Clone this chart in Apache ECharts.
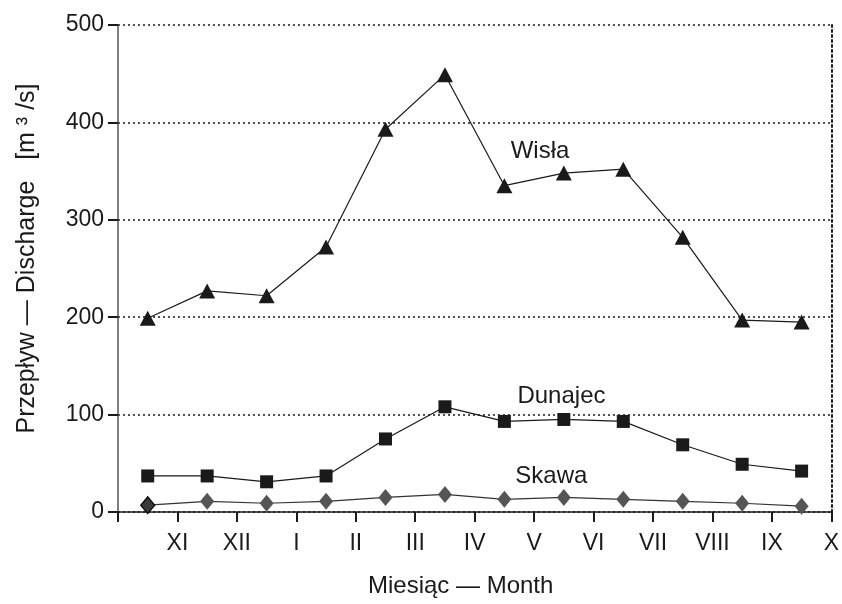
<!DOCTYPE html>
<html>
<head>
<meta charset="utf-8">
<script src="https://cdn.jsdelivr.net/npm/echarts@6/dist/echarts.min.js"></script>
<style>
  html, body { margin: 0; padding: 0; background: #fff; }
  #chart { width: 842px; height: 604px; }
</style>
</head>
<body>
<div id="chart"></div>
<script>
// months of the hydrological year, label sits at the end of each month
const months = ['XI', 'XII', 'I', 'II', 'III', 'IV', 'V', 'VI', 'VII', 'VIII', 'IX', 'X']
const yTicks = [0, 100, 200, 300, 400, 500]

// mean monthly discharge [m3/s]
const wisla = [199, 227, 222, 272, 393, 449, 335, 348, 352, 282, 197, 195]
const dunajec = [37, 37, 31, 37, 75, 108, 93, 95, 93, 69, 49, 42]
const skawa = [7, 11, 9, 11, 15, 18, 13, 15, 13, 11, 9, 6]

// where the river names are written, in data units [month, discharge]
const wislaLabelAt = [7.1, 370]
const dunajecLabelAt = [7.46, 119]
const skawaLabelAt = [7.29, 37]

const font = 'Liberation Sans, Arial, Helvetica, sans-serif'
const ink = '#1a1a1a'

// each month's value is plotted in the middle of the month
const toPoints = arr => arr.map((v, i) => [i + 0.5, v])

const nameMark = (name, at) => ({
  symbol: 'rect',
  symbolSize: 1,
  itemStyle: { color: 'rgba(0,0,0,0)' },
  label: { show: true, formatter: name, color: ink, fontFamily: font, fontSize: 24, position: 'inside' },
  data: [{ coord: at }]
})

const chart = echarts.init(document.getElementById('chart'))
chart.setOption({
  animation: false,
  grid: { left: 118, right: 8, top: 25, bottom: 92 },
  xAxis: {
    type: 'value',
    min: 0,
    max: months.length,
    interval: 1,
    name: 'Miesiąc — Month',
    nameLocation: 'middle',
    nameGap: 62,
    nameTextStyle: { color: ink, fontFamily: font, fontSize: 24, padding: [0, 28, 0, 0] },
    axisLine: { lineStyle: { color: ink, width: 1.5 } },
    axisTick: { show: true, length: 10, inside: false, lineStyle: { color: ink, width: 2 } },
    axisLabel: {
      color: ink, fontFamily: font, fontSize: 23, margin: 20,
      formatter: v => (v >= 1 ? months[v - 1] : '')
    },
    splitLine: { show: false }
  },
  yAxis: [
    {
      type: 'value',
      min: yTicks[0],
      max: yTicks[yTicks.length - 1],
      interval: 100,
      name: 'Przepływ — Discharge   [m ³ /s]',
      nameLocation: 'middle',
      nameGap: 78,
      nameTextStyle: { color: ink, fontFamily: font, fontSize: 25, padding: [0, 0, 0, 20] },
      axisLine: { show: true, lineStyle: { color: '#555', width: 1.5 } },
      axisTick: { show: true, length: 10, lineStyle: { color: ink, width: 2 } },
      axisLabel: { color: ink, fontFamily: font, fontSize: 23, margin: 14 },
      splitLine: { show: true, lineStyle: { color: ink, type: [2, 3], width: 1.5 } }
    },
    {
      // dotted frame on the right
      type: 'value',
      position: 'right',
      min: yTicks[0],
      max: yTicks[yTicks.length - 1],
      axisLine: { show: true, lineStyle: { color: ink, type: [2, 3], width: 2 } },
      axisTick: { show: false },
      axisLabel: { show: false },
      splitLine: { show: false }
    }
  ],
  series: [
    {
      name: 'Wisła',
      type: 'line',
      data: toPoints(wisla),
      symbol: 'triangle',
      symbolSize: [16, 15],
      lineStyle: { color: ink, width: 1.2 },
      itemStyle: { color: ink },
      markPoint: nameMark('Wisła', wislaLabelAt),
      z: 3
    },
    {
      name: 'Dunajec',
      type: 'line',
      data: toPoints(dunajec),
      symbol: 'rect',
      symbolSize: 13,
      lineStyle: { color: ink, width: 1.2 },
      itemStyle: { color: ink },
      markPoint: nameMark('Dunajec', dunajecLabelAt),
      z: 3
    },
    {
      name: 'Skawa',
      type: 'line',
      data: toPoints(skawa).map((p, i) => i === 0
        ? { value: p, itemStyle: { color: '#3a3a3a', borderColor: '#000', borderWidth: 1.2 } }
        : p),
      symbol: 'diamond',
      symbolSize: [14, 17],
      lineStyle: { color: '#333', width: 1.2 },
      itemStyle: { color: '#555' },
      markPoint: nameMark('Skawa', skawaLabelAt),
      z: 3
    }
  ]
})
</script>
</body>
</html>
